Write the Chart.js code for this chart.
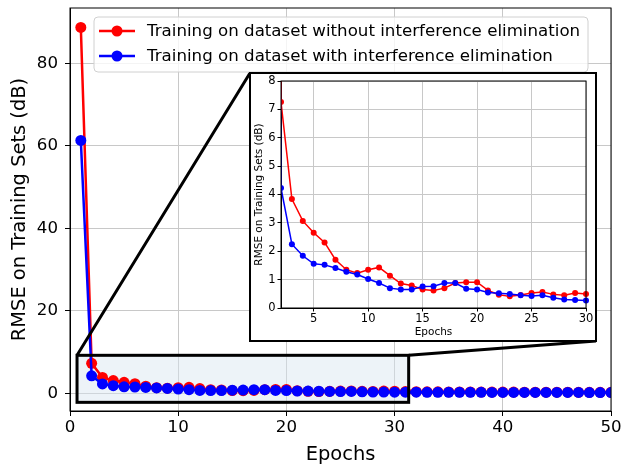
<!DOCTYPE html>
<html>
<head>
<meta charset="utf-8">
<script src="https://cdn.jsdelivr.net/npm/chart.js@4.4.1/dist/chart.umd.min.js"></script>
<style>
  html, body { margin: 0; padding: 0; background: #fff; }
  #wrap { position: relative; width: 624px; height: 466px; }
  #mainChart { position: absolute; left: 0; top: 0; }
  #insetBox {
    position: absolute; left: 249px; top: 72px; width: 348px; height: 270px;
    box-sizing: border-box; border: 2.5px solid #000; background: #fff;
  }
  #insetChart { position: absolute; left: 0; top: 0; }
</style>
</head>
<body>
<div id="wrap">
  <canvas id="mainChart" width="624" height="466"></canvas>
  <div id="insetBox"><canvas id="insetChart" width="343" height="265"></canvas></div>
</div>
<script>
// epochs and RMSE values (dB)
const epochs = [1, 2, 3, 4, 5, 6, 7, 8, 9, 10, 11, 12, 13, 14, 15, 16, 17, 18, 19, 20,
  21, 22, 23, 24, 25, 26, 27, 28, 29, 30, 31, 32, 33, 34, 35, 36, 37, 38, 39, 40,
  41, 42, 43, 44, 45, 46, 47, 48, 49, 50];

const rmseWithout = [88.7, 7.26, 3.84, 3.07, 2.65, 2.31, 1.70, 1.35, 1.23, 1.35,
  1.43, 1.14, 0.86, 0.79, 0.65, 0.62, 0.70, 0.88, 0.91, 0.91,
  0.62, 0.47, 0.41, 0.46, 0.53, 0.56, 0.48, 0.45, 0.53, 0.49,
  0.40, 0.38, 0.36, 0.35, 0.33, 0.32, 0.31, 0.30, 0.29, 0.28,
  0.28, 0.27, 0.26, 0.26, 0.25, 0.25, 0.24, 0.24, 0.23, 0.23];

const rmseWith = [61.3, 4.23, 2.25, 1.84, 1.56, 1.52, 1.41, 1.28, 1.18, 1.02,
  0.88, 0.70, 0.65, 0.65, 0.76, 0.77, 0.88, 0.88, 0.68, 0.65,
  0.55, 0.52, 0.49, 0.45, 0.42, 0.45, 0.36, 0.30, 0.28, 0.26,
  0.26, 0.25, 0.24, 0.24, 0.23, 0.23, 0.22, 0.22, 0.21, 0.21,
  0.21, 0.20, 0.20, 0.20, 0.19, 0.19, 0.19, 0.18, 0.18, 0.18];

const seriesLabels = [
  'Training on dataset without interference elimination',
  'Training on dataset with interference elimination'
];
const seriesColors = ['#ff0000', '#0000ff'];

const mainXTicks = [0, 10, 20, 30, 40, 50];
const mainYTicks = [0, 20, 40, 60, 80];
const insetXTicks = [5, 10, 15, 20, 25, 30];
const insetYTicks = [0, 1, 2, 3, 4, 5, 6, 7, 8];

// zoomed region marked on the main plot (data units)
const zoomRegion = { x0: 0.65, x1: 31.3, y0: -2.2, y1: 9.2 };
// where the inset box sits on the page
const insetCorners = { left: 250, top: 73, right: 596, bottom: 341 };

const FONT = "'DejaVu Sans', sans-serif";
const GRID = '#c8c8c8';

function points(vals) {
  return epochs.map((e, i) => ({ x: e, y: vals[i] }));
}

// frame around the plot area (matplotlib spines)
const spines = {
  id: 'spines',
  afterDatasetsDraw(chart) {
    const { ctx, chartArea: a } = chart;
    ctx.save();
    ctx.strokeStyle = '#000';
    ctx.lineWidth = 1;
    ctx.strokeRect(a.left, a.top, a.right - a.left, a.bottom - a.top);
    ctx.restore();
  }
};

// shaded zoom rectangle plus the two connector lines to the inset
const zoomMarker = {
  id: 'zoomMarker',
  beforeDatasetsDraw(chart) {
    const { ctx, scales: { x, y } } = chart;
    const l = x.getPixelForValue(zoomRegion.x0);
    const r = x.getPixelForValue(zoomRegion.x1);
    const t = y.getPixelForValue(zoomRegion.y1);
    const b = y.getPixelForValue(zoomRegion.y0);
    ctx.save();
    ctx.fillStyle = 'rgba(214, 228, 240, 0.45)';
    ctx.fillRect(l, t, r - l, b - t);
    ctx.restore();
  },
  afterDatasetsDraw(chart) {
    const { ctx, scales: { x, y } } = chart;
    const l = x.getPixelForValue(zoomRegion.x0);
    const r = x.getPixelForValue(zoomRegion.x1);
    const t = y.getPixelForValue(zoomRegion.y1);
    const b = y.getPixelForValue(zoomRegion.y0);
    ctx.save();
    ctx.strokeStyle = '#000';
    ctx.lineWidth = 3;
    ctx.strokeRect(l, t, r - l, b - t);
    ctx.beginPath();
    ctx.moveTo(l, t);
    ctx.lineTo(insetCorners.left, insetCorners.top);
    ctx.moveTo(r, t);
    ctx.lineTo(insetCorners.right, insetCorners.bottom);
    ctx.stroke();
    ctx.restore();
  }
};

// legend box inside the plot, top-left
const boxLegend = {
  id: 'boxLegend',
  afterDraw(chart) {
    const { ctx } = chart;
    const bx = 94, by = 17, bw = 494, bh = 55;
    ctx.save();
    ctx.beginPath();
    ctx.roundRect(bx, by, bw, bh, 4);
    ctx.fillStyle = 'rgba(255,255,255,0.8)';
    ctx.fill();
    ctx.strokeStyle = '#d0d0d0';
    ctx.lineWidth = 1;
    ctx.stroke();
    ctx.font = '16.67px ' + FONT;
    ctx.textBaseline = 'middle';
    seriesLabels.forEach((lab, i) => {
      const yy = by + 14 + i * 25;
      ctx.strokeStyle = seriesColors[i];
      ctx.lineWidth = 2.5;
      ctx.beginPath();
      ctx.moveTo(99, yy);
      ctx.lineTo(135, yy);
      ctx.stroke();
      ctx.fillStyle = seriesColors[i];
      ctx.beginPath();
      ctx.arc(117, yy, 5.5, 0, Math.PI * 2);
      ctx.fill();
      ctx.fillStyle = '#000';
      ctx.fillText(lab, 147, yy + 1);
    });
    ctx.restore();
  }
};

function fixedTicks(list) {
  return function (scale) {
    scale.ticks = list.map(v => ({ value: v }));
  };
}

function sized(w, h) {
  return function (scale) {
    if (w != null) scale.width = w;
    if (h != null) scale.height = h;
    scale.paddingTop = 0;
    scale.paddingBottom = 0;
    scale.paddingLeft = 0;
    scale.paddingRight = 0;
  };
}

Chart.defaults.font.family = FONT;
Chart.defaults.color = '#000';

new Chart(document.getElementById('mainChart'), {
  type: 'line',
  data: {
    datasets: [
      {
        label: seriesLabels[0],
        data: points(rmseWithout),
        borderColor: seriesColors[0],
        backgroundColor: seriesColors[0],
        borderWidth: 2.5,
        pointRadius: 5.5,
        pointBorderWidth: 0,
        order: 2
      },
      {
        label: seriesLabels[1],
        data: points(rmseWith),
        borderColor: seriesColors[1],
        backgroundColor: seriesColors[1],
        borderWidth: 2.5,
        pointRadius: 5.5,
        pointBorderWidth: 0,
        order: 1
      }
    ]
  },
  options: {
    responsive: false,
    animation: false,
    layout: { padding: { top: 8, right: 13, left: 0, bottom: 0 } },
    plugins: { legend: { display: false }, tooltip: { enabled: false } },
    scales: {
      x: {
        type: 'linear',
        min: 0,
        max: 50,
        afterBuildTicks: fixedTicks(mainXTicks),
        afterFit: sized(null, 55),
        grid: { color: GRID, tickColor: '#000', tickLength: 5 },
        border: { color: '#000' },
        ticks: { font: { size: 16.67 }, padding: 2, maxRotation: 0 },
        title: { display: true, text: 'Epochs', font: { size: 19.44, lineHeight: 1.1 }, padding: { top: 0, bottom: 0 } }
      },
      y: {
        type: 'linear',
        min: -4.3,
        max: 93.4,
        afterBuildTicks: fixedTicks(mainYTicks),
        afterFit: sized(70, null),
        grid: { color: GRID, tickColor: '#000', tickLength: 5 },
        border: { color: '#000' },
        ticks: { font: { size: 16.67 }, padding: 7 },
        title: { display: true, text: 'RMSE on Training Sets (dB)', font: { size: 19.44, lineHeight: 1.1 }, padding: { top: 9, bottom: 0 } }
      }
    }
  },
  plugins: [zoomMarker, spines, boxLegend]
});

new Chart(document.getElementById('insetChart'), {
  type: 'line',
  data: {
    datasets: [
      {
        data: points(rmseWithout),
        borderColor: seriesColors[0],
        backgroundColor: seriesColors[0],
        borderWidth: 1.5,
        pointRadius: 3,
        pointBorderWidth: 0,
        clip: { left: 0, top: 0, right: 4, bottom: 4 },
        order: 2
      },
      {
        data: points(rmseWith),
        borderColor: seriesColors[1],
        backgroundColor: seriesColors[1],
        borderWidth: 1.5,
        pointRadius: 3,
        pointBorderWidth: 0,
        clip: { left: 0, top: 0, right: 4, bottom: 4 },
        order: 1
      }
    ]
  },
  options: {
    responsive: false,
    animation: false,
    layout: { padding: { top: 7, right: 8, left: 0, bottom: 0 } },
    plugins: { legend: { display: false }, tooltip: { enabled: false } },
    scales: {
      x: {
        type: 'linear',
        min: 2,
        max: 30,
        afterBuildTicks: fixedTicks(insetXTicks),
        afterFit: sized(null, 31),
        grid: { color: GRID, tickColor: '#000', tickLength: 3.5 },
        border: { color: '#000' },
        ticks: { font: { size: 11.5 }, padding: 1, maxRotation: 0 },
        title: { display: true, text: 'Epochs', font: { size: 10.5 }, padding: { top: 0, bottom: 0.5 } }
      },
      y: {
        type: 'linear',
        min: 0,
        max: 8,
        afterBuildTicks: fixedTicks(insetYTicks),
        afterFit: sized(30, null),
        grid: { color: GRID, tickColor: '#000', tickLength: 3.5 },
        border: { color: '#000' },
        ticks: { font: { size: 11.5 }, padding: 2 },
        title: { display: true, text: 'RMSE on Training Sets (dB)', font: { size: 10.5 }, padding: { top: 2, bottom: 0 } }
      }
    }
  },
  plugins: [spines]
});
</script>
</body>
</html>
